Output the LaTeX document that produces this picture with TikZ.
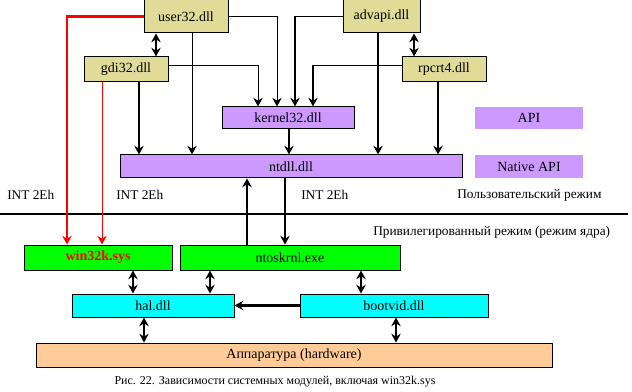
\documentclass[tikz,border=0pt]{standalone}
\usepackage{fontspec}
\setmainfont{Liberation Serif}
\usepackage{xcolor}
\usetikzlibrary{arrows.meta, calc}

\definecolor{dllkhaki}{HTML}{E0DC98}
\definecolor{apiviolet}{HTML}{CC99FF}
\definecolor{krngreen}{HTML}{00FF00}
\definecolor{halcyan}{HTML}{00FFFF}
\definecolor{hwpeach}{HTML}{FFCC99}

\tikzset{
  dllbox/.style={
    draw, fill=#1, line width=0.75pt, inner sep=0pt,
    align=center, font=\fontsize{10.5}{12}\selectfont
  },
  legend/.style={
    fill=apiviolet, inner sep=0pt,
    minimum width=81pt, minimum height=16.5pt,
    align=center, font=\fontsize{10.5}{12}\selectfont
  },
  modetext/.style={anchor=west, inner sep=0pt, font=\fontsize{10}{12}\selectfont},
  thinarrow/.style={-{Stealth[length=6.5pt,width=7pt]}, line width=0.75pt},
  thickarrow/.style={-{Stealth[length=6.5pt,width=7pt]}, line width=1.6pt},
  dblarrow/.style={{Stealth[length=6.5pt,width=7pt]}-{Stealth[length=6.5pt,width=7pt]}, line width=1.6pt},
  thinline/.style={line width=0.75pt}
}

\begin{document}
\begin{tikzpicture}[x=0.75pt, y=-0.75pt]
\useasboundingbox (0,0) rectangle (632,392);

%% ── User mode DLLs ──────────────────────────────────────────
\node[dllbox=dllkhaki, minimum width=63pt, minimum height=24.75pt] (user32) at (186,16.5) {user32.dll};
\node[dllbox=dllkhaki, minimum width=57.75pt, minimum height=24.75pt] (advapi) at (381.5,16.5) {advapi.dll};
\node[dllbox=dllkhaki, minimum width=63pt, minimum height=18.75pt] (gdi32) at (126,69.5) {gdi32.dll};
\node[dllbox=dllkhaki, minimum width=63pt, minimum height=18.75pt] (rpcrt4) at (444,69.5) {rpcrt4.dll};
\node[dllbox=apiviolet, minimum width=99pt, minimum height=16.5pt] (kernel32) at (288,118) {kernel32.dll};
\node[dllbox=apiviolet, minimum width=256.5pt, minimum height=17.25pt] (ntdll) at (291,166.5) {ntdll.dll};

%% ── Legend ──────────────────────────────────────────────────
\node[legend] (api) at (529,118) {API};
\node[legend, minimum height=17.25pt] (nativeapi) at (529,166.5) {Native API};

%% ── Mode boundary ───────────────────────────────────────────
\node[modetext] (int1) at (7,195) {INT 2Eh};
\node[modetext] (int2) at (116,195) {INT 2Eh};
\node[modetext] (int3) at (301,195) {INT 2Eh};
\node[modetext] (usermode) at (457,195) {Пользовательский режим};
\coordinate (bleft) at (0,214);
\coordinate (bright) at (628,214);
\draw[line width=2.2pt] (bleft) -- (bright);
\node[modetext] (kernmode) at (373,232) {Привилегированный режим (режим ядра)};

%% ── Kernel mode modules ─────────────────────────────────────
\node[dllbox=krngreen, minimum width=111pt, minimum height=18.75pt,
      text=red, font=\fontsize{10.5}{12}\selectfont\bfseries] (win32k) at (98,257.5) {win32k.sys};
\node[dllbox=krngreen, minimum width=165pt, minimum height=18.75pt] (ntoskrnl) at (290,257.5) {ntoskrnl.exe};
\node[dllbox=halcyan, minimum width=121.5pt, minimum height=17.25pt] (hal) at (153,305.5) {hal.dll};
\node[dllbox=halcyan, minimum width=141pt, minimum height=17.25pt] (bootvid) at (394,305.5) {bootvid.dll};
\node[dllbox=hwpeach, minimum width=387pt, minimum height=18pt] (hw) at (294,355) {Аппаратура (hardware)};

%% ── Caption ─────────────────────────────────────────────────
\node[inner sep=0pt, font=\fontsize{9}{10}\selectfont] (caption) at (275,382)
  {Рис. 22. Зависимости системных модулей, включая win32k.sys};

%% ── Calls to win32k.sys (red) ───────────────────────────────
\draw[red, -{Stealth[length=6.5pt,width=7pt]}, line width=1.6pt]
  (user32.west) -| ([xshift=-23.25pt]win32k.north);
\draw[red, thinarrow]
  ([xshift=-18pt]gdi32.south) -- ([xshift=-18pt]gdi32.south |- win32k.north);

%% ── user32 / gdi32 ──────────────────────────────────────────
\draw[dblarrow] ([xshift=-22.5pt]user32.south) -- ([xshift=-22.5pt]user32.south |- gdi32.north);
\draw[thinarrow] (user32.east) -| ([xshift=-8.25pt]kernel32.north);
\draw[thinarrow] ([xshift=4.5pt]user32.south) -- ([xshift=4.5pt]user32.south |- ntdll.north);
\draw[thinarrow] ([yshift=3pt]gdi32.east) -| ([xshift=-22.5pt]kernel32.north);
\draw[thickarrow] ([xshift=9.75pt]gdi32.south) -- ([xshift=9.75pt]gdi32.south |- ntdll.north);

%% ── advapi / rpcrt4 ─────────────────────────────────────────
\draw[dblarrow] ([xshift=24.4pt]advapi.south) -- ([xshift=24.4pt]advapi.south |- rpcrt4.north);
\coordinate (advturn) at ([xshift=5.25pt]kernel32.north |- advapi.west);
\draw[thinline] (advapi.west) -- (advturn);
\draw[thickarrow] (advturn) -- ([xshift=5.25pt]kernel32.north);
\coordinate (rpcside) at ([yshift=3pt]rpcrt4.west);
\coordinate (rpcturn) at ([xshift=18.75pt]kernel32.north |- rpcside);
\draw[thinline] (rpcside) -- (rpcturn);
\draw[thickarrow] (rpcturn) -- ([xshift=18.75pt]kernel32.north);
\draw[thickarrow] ([xshift=-2.6pt]advapi.south) -- ([xshift=-2.6pt]advapi.south |- ntdll.north);
\draw[thickarrow] ([xshift=-4.5pt]rpcrt4.south) -- ([xshift=-4.5pt]rpcrt4.south |- ntdll.north);
\draw[thickarrow] ([xshift=0.75pt]kernel32.south) -- ([xshift=0.75pt]kernel32.south |- ntdll.north);

%% ── ntdll / ntoskrnl ────────────────────────────────────────
\draw[thickarrow] ([xshift=-32.25pt]ntoskrnl.north) -- ([xshift=-32.25pt]ntoskrnl.north |- ntdll.south);
\draw[thickarrow] ([xshift=-3.75pt]ntoskrnl.north |- ntdll.south) -- ([xshift=-3.75pt]ntoskrnl.north);

%% ── HAL level ───────────────────────────────────────────────
\draw[dblarrow] ([xshift=26.25pt]win32k.south) -- ([xshift=26.25pt]win32k.south |- hal.north);
\draw[dblarrow] ([xshift=-60pt]ntoskrnl.south) -- ([xshift=-60pt]ntoskrnl.south |- hal.north);
\draw[dblarrow] ([xshift=53.25pt]ntoskrnl.south) -- ([xshift=53.25pt]ntoskrnl.south |- bootvid.north);
\draw[thickarrow] (bootvid.west) -- (hal.east);
\draw[dblarrow] ([xshift=-6.75pt]hal.south) -- ([xshift=-6.75pt]hal.south |- hw.north);
\draw[dblarrow] ([xshift=1.5pt]bootvid.south) -- ([xshift=1.5pt]bootvid.south |- hw.north);

\end{tikzpicture}
\end{document}
